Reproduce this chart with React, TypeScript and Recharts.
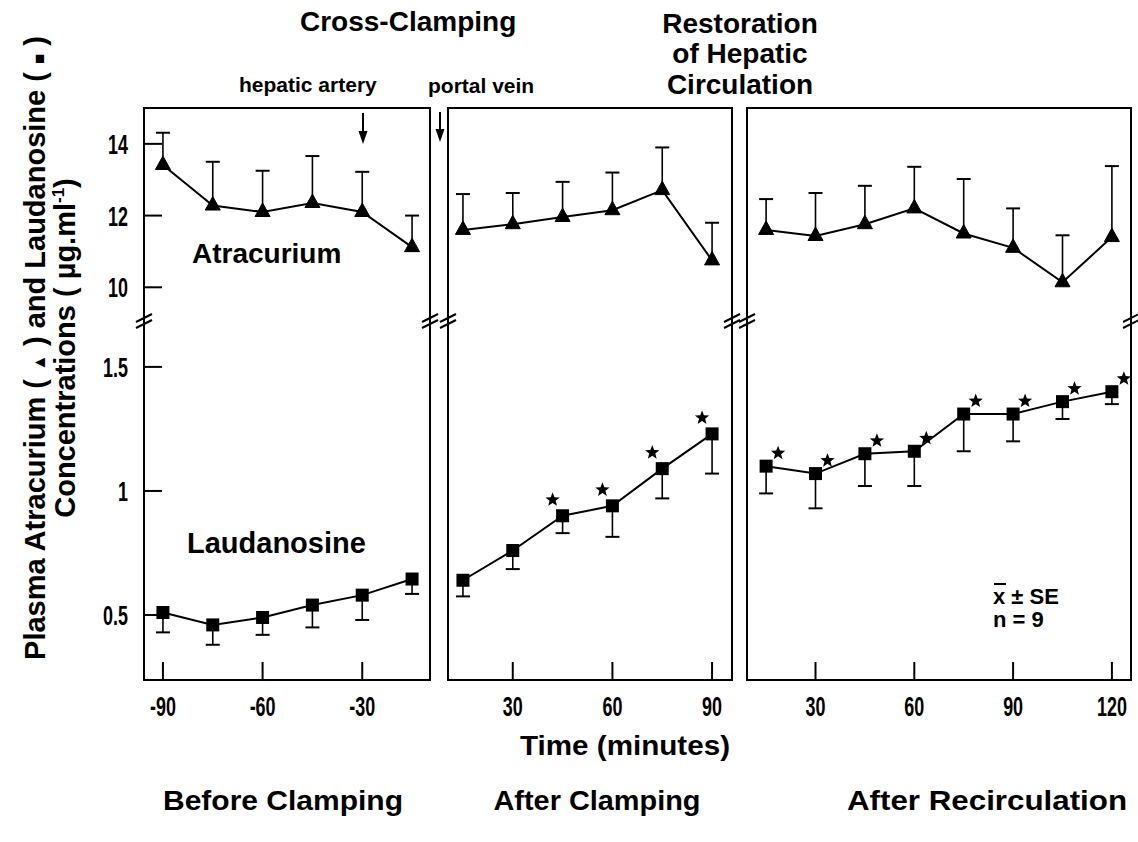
import React from 'react';
import { LineChart, Line, XAxis, YAxis, ErrorBar } from 'recharts';

// ---------- DATA ----------
const beforeTime = [-90, -75, -60, -45, -30, -15];
const beforeAtracurium = [13.41, 12.28, 12.1, 12.35, 12.1, 11.12];
const beforeAtracuriumSE = [0.9, 1.22, 1.15, 1.31, 1.12, 0.88];
const beforeLaudanosine = [0.51, 0.46, 0.49, 0.54, 0.58, 0.645];
const beforeLaudanosineSE = [0.08, 0.08, 0.07, 0.09, 0.1, 0.06];
const beforeSignificant = [false, false, false, false, false, false];

const clampTime = [15, 30, 45, 60, 75, 90];
const clampAtracurium = [11.6, 11.76, 11.96, 12.15, 12.71, 10.75];
const clampAtracuriumSE = [1.0, 0.87, 0.98, 1.05, 1.19, 1.05];
const clampLaudanosine = [0.64, 0.76, 0.9, 0.94, 1.09, 1.23];
const clampLaudanosineSE = [0.065, 0.075, 0.07, 0.125, 0.12, 0.16];
const clampSignificant = [false, false, true, true, true, true];

const recircTime = [15, 30, 45, 60, 75, 90, 105, 120];
const recircAtracurium = [11.6, 11.43, 11.76, 12.2, 11.5, 11.1, 10.14, 11.4];
const recircAtracuriumSE = [0.86, 1.2, 1.07, 1.16, 1.52, 1.1, 1.31, 1.98];
const recircLaudanosine = [1.1, 1.07, 1.15, 1.16, 1.31, 1.31, 1.36, 1.4];
const recircLaudanosineSE = [0.11, 0.14, 0.13, 0.14, 0.15, 0.11, 0.07, 0.05];
const recircSignificant = [true, true, true, true, true, true, true, true];

const beforeTicks = [-90, -60, -30];
const clampTicks = [30, 60, 90];
const recircTicks = [30, 60, 90, 120];
const atracuriumTicks = [10, 12, 14];
const laudanosineTicks = [0.5, 1, 1.5];

// ---------- LAYOUT ----------
const FONT = "'Liberation Sans', Arial, Helvetica, sans-serif";
const TOP = 108;
const BREAK = 321;
const BOTTOM = 680;
const X_AXIS_H = 50;
const UPPER_DOMAIN: [number, number] = [9.06, 15.0];
const LOWER_DOMAIN: [number, number] = [0.238, 1.685];

type Panel = {
  key: string;
  x0: number;
  x1: number;
  domain: [number, number];
  ticks: number[];
  time: number[];
  atra: number[];
  atraSE: number[];
  laud: number[];
  laudSE: number[];
  sig: boolean[];
  showY: boolean;
  starDx: number;
  starDy: number;
};

const PANELS: Panel[] = [
  {
    key: 'before', x0: 144, x1: 430, domain: [-95.7, -9.6], ticks: beforeTicks,
    time: beforeTime, atra: beforeAtracurium, atraSE: beforeAtracuriumSE,
    laud: beforeLaudanosine, laudSE: beforeLaudanosineSE, sig: beforeSignificant,
    showY: true, starDx: 0, starDy: 0,
  },
  {
    key: 'clamp', x0: 448, x1: 732, domain: [10.5, 96], ticks: clampTicks,
    time: clampTime, atra: clampAtracurium, atraSE: clampAtracuriumSE,
    laud: clampLaudanosine, laudSE: clampLaudanosineSE, sig: clampSignificant,
    showY: false, starDx: -10, starDy: -16,
  },
  {
    key: 'recirc', x0: 747, x1: 1131, domain: [9.2, 125.8], ticks: recircTicks,
    time: recircTime, atra: recircAtracurium, atraSE: recircAtracuriumSE,
    laud: recircLaudanosine, laudSE: recircLaudanosineSE, sig: recircSignificant,
    showY: false, starDx: 12, starDy: -13,
  },
];

// ---------- SHAPES ----------
function starPath(cx: number, cy: number, R: number, r: number) {
  let d = '';
  for (let k = 0; k < 10; k++) {
    const ang = -Math.PI / 2 + (k * Math.PI) / 5;
    const rad = k % 2 === 0 ? R : r;
    d += (k === 0 ? 'M' : 'L') + (cx + rad * Math.cos(ang)).toFixed(2) + ',' + (cy + rad * Math.sin(ang)).toFixed(2);
  }
  return d + 'Z';
}

const triangleDot = (props: any) => {
  const { cx, cy, index } = props;
  if (cx == null || cy == null) return <g key={`t${index}`} />;
  return (
    <path
      key={`t${index}`}
      d={`M${cx},${cy - 9} L${cx + 7.5},${cy + 4.5} L${cx - 7.5},${cy + 4.5} Z`}
      fill="#000"
      stroke="#000"
      strokeWidth={1}
    />
  );
};

const capDot = (props: any) => {
  const { cx, cy, index } = props;
  if (cx == null || cy == null) return <g key={`c${index}`} />;
  return <line key={`c${index}`} x1={cx - 7} x2={cx + 7} y1={cy} y2={cy} stroke="#000" strokeWidth={2} />;
};

const makeSquareDot = (dx: number, dy: number) => (props: any) => {
  const { cx, cy, index, payload } = props;
  if (cx == null || cy == null) return <g key={`s${index}`} />;
  return (
    <g key={`s${index}`}>
      <rect x={cx - 6.5} y={cy - 6.5} width={13} height={13} fill="#000" />
      {payload && payload.sig ? <path d={starPath(cx + dx, cy + dy, 7.5, 3.2)} fill="#000" /> : null}
    </g>
  );
};

const YTick = (props: any) => {
  const { x, y, payload } = props;
  return (
    <g>
      <line x1={x} x2={x + 18} y1={y} y2={y} stroke="#000" strokeWidth={2} />
      <text
        transform={`translate(${x - 16},${y + 10}) scale(0.64,1)`}
        textAnchor="end"
        fontFamily={FONT}
        fontWeight="bold"
        fontSize={28}
        fill="#000"
      >
        {String(payload.value)}
      </text>
    </g>
  );
};

const XTick = (props: any) => {
  const { x, y, payload } = props;
  return (
    <g>
      <line x1={x} x2={x} y1={y} y2={y - 18} stroke="#000" strokeWidth={2} />
      <text
        transform={`translate(${x},${y + 36}) scale(0.64,1)`}
        textAnchor="middle"
        fontFamily={FONT}
        fontWeight="bold"
        fontSize={28}
        fill="#000"
      >
        {String(payload.value)}
      </text>
    </g>
  );
};

// ---------- CHARTS ----------
function UpperChart({ p }: { p: Panel }) {
  const yW = p.showY ? 60 : 0;
  const data = p.time.map((t, i) => ({
    t,
    v: p.atra[i],
    err: [0, p.atraSE[i]],
    cap: p.atra[i] + p.atraSE[i],
  }));
  return (
    <div style={{ position: 'absolute', left: p.x0 - yW, top: TOP }}>
      <LineChart width={p.x1 - p.x0 + yW} height={BREAK - TOP} data={data} margin={{ top: 0, right: 0, bottom: 0, left: 0 }}>
        <XAxis type="number" dataKey="t" domain={p.domain} hide />
        <YAxis
          type="number"
          domain={UPPER_DOMAIN}
          ticks={atracuriumTicks}
          hide={!p.showY}
          width={yW}
          axisLine={false}
          tickLine={false}
          tickSize={0}
          tickMargin={0}
          interval={0}
          tick={(tp: any) => <YTick {...tp} />}
        />
        <Line dataKey="cap" stroke="none" dot={capDot} activeDot={false} isAnimationActive={false} legendType="none" />
        <Line dataKey="v" stroke="#000" strokeWidth={2} dot={triangleDot} activeDot={false} isAnimationActive={false}>
          <ErrorBar dataKey="err" width={0} stroke="#000" strokeWidth={1.6} direction="y" isAnimationActive={false} />
        </Line>
      </LineChart>
    </div>
  );
}

function LowerChart({ p }: { p: Panel }) {
  const yW = p.showY ? 60 : 0;
  const data = p.time.map((t, i) => ({
    t,
    v: p.laud[i],
    err: [p.laudSE[i], 0],
    cap: p.laud[i] - p.laudSE[i],
    sig: p.sig[i],
  }));
  return (
    <div style={{ position: 'absolute', left: p.x0 - yW, top: BREAK }}>
      <LineChart
        width={p.x1 - p.x0 + yW}
        height={BOTTOM - BREAK + X_AXIS_H}
        data={data}
        margin={{ top: 0, right: 0, bottom: 0, left: 0 }}
      >
        <XAxis
          type="number"
          dataKey="t"
          domain={p.domain}
          ticks={p.ticks}
          height={X_AXIS_H}
          axisLine={false}
          tickLine={false}
          tickSize={0}
          tickMargin={0}
          interval={0}
          tick={(tp: any) => <XTick {...tp} />}
        />
        <YAxis
          type="number"
          domain={LOWER_DOMAIN}
          ticks={laudanosineTicks}
          hide={!p.showY}
          width={yW}
          axisLine={false}
          tickLine={false}
          tickSize={0}
          tickMargin={0}
          interval={0}
          tick={(tp: any) => <YTick {...tp} />}
        />
        <Line dataKey="cap" stroke="none" dot={capDot} activeDot={false} isAnimationActive={false} legendType="none" />
        <Line
          dataKey="v"
          stroke="#000"
          strokeWidth={2}
          dot={makeSquareDot(p.starDx, p.starDy)}
          activeDot={false}
          isAnimationActive={false}
        >
          <ErrorBar dataKey="err" width={0} stroke="#000" strokeWidth={1.6} direction="y" isAnimationActive={false} />
        </Line>
      </LineChart>
    </div>
  );
}

// ---------- OVERLAY ----------
function BreakMark({ x, y }: { x: number; y: number }) {
  return (
    <g stroke="#000" strokeWidth={2}>
      <line x1={x - 8} y1={y + 1} x2={x + 8} y2={y - 7} />
      <line x1={x - 8} y1={y + 7} x2={x + 8} y2={y - 1} />
    </g>
  );
}

function Arrow({ x, y1, y2 }: { x: number; y1: number; y2: number }) {
  return (
    <g>
      <line x1={x} x2={x} y1={y1} y2={y2 - 10} stroke="#000" strokeWidth={2} />
      <path d={`M${x - 4.5},${y2 - 13} L${x + 4.5},${y2 - 13} L${x},${y2} Z`} fill="#000" />
    </g>
  );
}

function Overlay() {
  const bold = { fontFamily: FONT, fontWeight: 'bold' as const, fill: '#000' };
  return (
    <svg width={1138} height={842} style={{ position: 'absolute', left: 0, top: 0, pointerEvents: 'none' }}>
      {PANELS.map((p) => (
        <g key={p.key}>
          <rect x={p.x0} y={TOP} width={p.x1 - p.x0} height={BOTTOM - TOP} fill="none" stroke="#000" strokeWidth={2} />
          <BreakMark x={p.x0} y={BREAK} />
          <BreakMark x={p.x1} y={BREAK} />
        </g>
      ))}

      <Arrow x={363} y1={113} y2={144} />
      <Arrow x={440} y1={112} y2={142} />

      <text x={300} y={31} fontSize={28} {...bold}>Cross-Clamping</text>
      <text x={740} y={33} fontSize={28} textAnchor="middle" {...bold}>Restoration</text>
      <text x={740} y={63} fontSize={28} textAnchor="middle" {...bold}>of Hepatic</text>
      <text x={740} y={94} fontSize={28} textAnchor="middle" {...bold}>Circulation</text>
      <text x={239} y={92} fontSize={21} {...bold}>hepatic artery</text>
      <text x={428} y={93} fontSize={21} {...bold}>portal vein</text>

      <text x={192} y={263} fontSize={28} {...bold}>Atracurium</text>
      <text x={187} y={553} fontSize={29} {...bold}>Laudanosine</text>

      <line x1={994} x2={1006} y1={584} y2={584} stroke="#000" strokeWidth={2} />
      <text x={993} y={604} fontSize={22} {...bold}>x ± SE</text>
      <text x={993} y={627} fontSize={22} {...bold}>n = 9</text>

      <text x={625} y={755} fontSize={28} textAnchor="middle" textLength={210} lengthAdjust="spacingAndGlyphs" {...bold}>
        Time (minutes)
      </text>

      <text x={283} y={810} fontSize={28} textAnchor="middle" textLength={240} lengthAdjust="spacingAndGlyphs" {...bold}>
        Before Clamping
      </text>
      <text x={597} y={810} fontSize={28} textAnchor="middle" textLength={207} lengthAdjust="spacingAndGlyphs" {...bold}>
        After Clamping
      </text>
      <text x={987} y={810} fontSize={28} textAnchor="middle" textLength={280} lengthAdjust="spacingAndGlyphs" {...bold}>
        After Recirculation
      </text>

      <text transform="translate(45,348) rotate(-90)" textAnchor="middle" fontSize={29} {...bold}>
        Plasma Atracurium ( <tspan fontSize={17}>▲</tspan> ) and Laudanosine ( <tspan fontSize={17}>■</tspan> )
      </text>
      <text transform="translate(75,348) rotate(-90)" textAnchor="middle" fontSize={29} {...bold}>
        Concentrations ( µg.ml<tspan dy={-11} fontSize={17}>-1</tspan>
        <tspan dy={11}>)</tspan>
      </text>
    </svg>
  );
}

export default function App() {
  return (
    <div style={{ position: 'absolute', left: 0, top: 0, width: 1138, height: 842, background: '#fff', overflow: 'hidden' }}>
      {PANELS.map((p) => (
        <React.Fragment key={p.key}>
          <UpperChart p={p} />
          <LowerChart p={p} />
        </React.Fragment>
      ))}
      <Overlay />
    </div>
  );
}
